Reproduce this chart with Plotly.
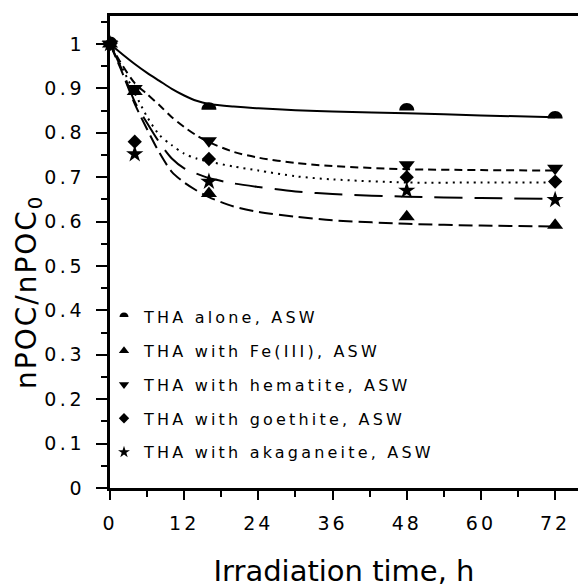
import plotly.graph_objects as go

# ---- data ----
sample_t = [0, 4, 16, 48, 72]
alone_t = [0, 16, 48, 72]
alone_v = [1.0, 0.852, 0.850, 0.832]
fe_v = [1.0, 0.893, 0.663, 0.611, 0.592]
hem_v = [1.0, 0.900, 0.782, 0.728, 0.720]
goe_v = [1.0, 0.780, 0.741, 0.700, 0.690]
aka_v = [1.0, 0.752, 0.690, 0.670, 0.649]

fit_t = [0, 2, 4, 6, 8, 10, 12, 14, 16, 20, 24, 30, 36, 48, 60, 72]
fit_alone = [1.0, 0.977, 0.955, 0.935, 0.917, 0.899, 0.884, 0.872, 0.865, 0.859, 0.855, 0.851, 0.848, 0.844, 0.839, 0.835]
fit_fe = [1.0, 0.935, 0.865, 0.808, 0.755, 0.712, 0.688, 0.670, 0.655, 0.634, 0.622, 0.611, 0.603, 0.595, 0.591, 0.589]
fit_hem = [1.0, 0.952, 0.912, 0.887, 0.862, 0.835, 0.813, 0.794, 0.779, 0.757, 0.744, 0.732, 0.725, 0.718, 0.716, 0.715]
fit_goe = [1.0, 0.945, 0.890, 0.836, 0.795, 0.772, 0.753, 0.742, 0.735, 0.724, 0.715, 0.702, 0.695, 0.688, 0.688, 0.688]
fit_aka = [1.0, 0.940, 0.870, 0.822, 0.778, 0.742, 0.720, 0.708, 0.698, 0.686, 0.678, 0.668, 0.662, 0.656, 0.653, 0.651]

labels = ["THA alone, ASW", "THA with Fe(III), ASW", "THA with hematite, ASW",
          "THA with goethite, ASW", "THA with akaganeite, ASW"]

x_ticks = [0, 12, 24, 36, 48, 60, 72]

FONT = "DejaVu Sans"
BLACK = "#000000"

fig = go.Figure()

# fitted curves
curve_specs = [
    (fit_alone, "solid"),
    (fit_fe, "14px,6px"),
    (fit_hem, "8px,5px"),
    (fit_goe, "2px,5px"),
    (fit_aka, "28px,12px"),
]
for vals, dash in curve_specs:
    fig.add_trace(go.Scatter(x=fit_t, y=vals, mode="lines", showlegend=False,
                             line=dict(color=BLACK, width=2, dash=dash, shape="spline", smoothing=0.8),
                             hoverinfo="skip"))

# data markers
marker_specs = [
    (fe_v, "triangle-up", 14, 9),
    (hem_v, "triangle-down", 14, 9),
    (goe_v, "diamond", 11, 8),
    (aka_v, "star", 13, 9),
]
# transparent legend entry for "alone" (its half-circle symbol is drawn as a shape)
fig.add_trace(go.Scatter(x=[None], y=[None], mode="markers", name=labels[0],
                         legendgroup="g0",
                         marker=dict(symbol="circle", size=9, color="rgba(0,0,0,0)")))
for i, (vals, sym, size, lsize) in enumerate(marker_specs):
    fig.add_trace(go.Scatter(x=sample_t, y=vals, mode="markers", showlegend=False,
                             marker=dict(symbol=sym, size=size, color=BLACK, line=dict(width=0)),
                             cliponaxis=False))
    fig.add_trace(go.Scatter(x=[None], y=[None], mode="markers", name=labels[i + 1],
                             legendgroup="g%d" % (i + 1),
                             marker=dict(symbol=sym, size=lsize, color=BLACK)))


def half_circle(r):
    k = 0.5523 * r
    return (f"M {-r},0 C {-r},{k} {-k},{r} 0,{r} C {k},{r} {r},{k} {r},0 Z")


PL, PT, PB = 110, 16, 100
PW, PH = 578 - PL, 588 - PT - PB

shapes = []
for t, v in zip(alone_t, alone_v):
    shapes.append(dict(type="path", xref="x", yref="y", xsizemode="pixel", ysizemode="pixel",
                       xanchor=t, yanchor=v, path=half_circle(7.5),
                       fillcolor=BLACK, line=dict(width=0), layer="above"))
# legend half circle
shapes.append(dict(type="path", xref="paper", yref="paper", xsizemode="pixel", ysizemode="pixel",
                   xanchor=(124 - PL) / PW, yanchor=(588 - PB - 317) / PH, path=half_circle(4.5),
                   fillcolor=BLACK, line=dict(width=0), layer="above"))

fig.update_layout(
    width=578, height=588, autosize=False,
    margin=dict(l=PL, r=0, t=PT, b=PB, pad=0),
    paper_bgcolor="white", plot_bgcolor="white",
    font=dict(family=FONT, color=BLACK, size=18),
    showlegend=True,
    legend=dict(x=(104 - PL) / PW, y=(588 - PB - 300) / PH, xanchor="left", yanchor="top",
                bgcolor="rgba(0,0,0,0)", borderwidth=0,
                font=dict(family=FONT, size=16, color=BLACK),
                tracegroupgap=10, itemwidth=30),
    shapes=shapes,
    annotations=[dict(text="nPOC/nPOC<sub>0</sub>", xref="paper", yref="paper",
                      x=(28 - PL) / PW, y=(588 - PB - 292) / PH, textangle=-90,
                      showarrow=False, xanchor="center", yanchor="middle",
                      font=dict(family=FONT, size=28, color=BLACK))],
)

fig.update_xaxes(range=[0, 75.7], showline=True, linewidth=3, linecolor=BLACK, mirror=True,
                 ticks="outside", ticklen=9, tickwidth=2, tickcolor=BLACK,
                 tickvals=x_ticks, showgrid=False, zeroline=False,
                 tickfont=dict(family=FONT, size=19, color=BLACK), ticklabelstandoff=7,
                 minor=dict(dtick=6, tick0=0, ticks="outside", ticklen=6, tickwidth=2, tickcolor=BLACK),
                 title=dict(text="Irradiation time, h", font=dict(family=FONT, size=29, color=BLACK),
                            standoff=31))
fig.update_yaxes(range=[0, 1.063], showline=True, linewidth=3, linecolor=BLACK, mirror=False,
                 ticks="outside", ticklen=11, tickwidth=2, tickcolor=BLACK,
                 dtick=0.1, tick0=0, showgrid=False, zeroline=False,
                 tickfont=dict(family=FONT, size=19, color=BLACK), ticklabelstandoff=6,
                 minor=dict(dtick=0.05, tick0=0, ticks="outside", ticklen=6, tickwidth=2, tickcolor=BLACK))

post = """
document.body.style.margin = '0';
document.body.style.padding = '0';
var gd = document.getElementById('{plot_id}');
function ls(){
  gd.querySelectorAll('.xtick text').forEach(function(e){ e.style.letterSpacing='3px'; });
  gd.querySelectorAll('.ytick text').forEach(function(e){
    e.style.letterSpacing='3.5px';
    e.setAttribute('dx', 0);
    var r = e.getBoundingClientRect();
    var g = gd.getBoundingClientRect();
    e.setAttribute('dx', (g.left + 85) - r.right);
  });
  gd.querySelectorAll('.legendtext').forEach(function(e){ e.style.letterSpacing='3.2px'; });
  gd.querySelectorAll('.annotation-text').forEach(function(e){ e.style.letterSpacing='2px'; });
  gd.querySelectorAll('.legend .scrollbox').forEach(function(e){ e.removeAttribute('clip-path'); });
}
ls();
gd.on('plotly_afterplot', ls);
"""

fig.write_html("out.html", post_script=post, config={"displayModeBar": False})
